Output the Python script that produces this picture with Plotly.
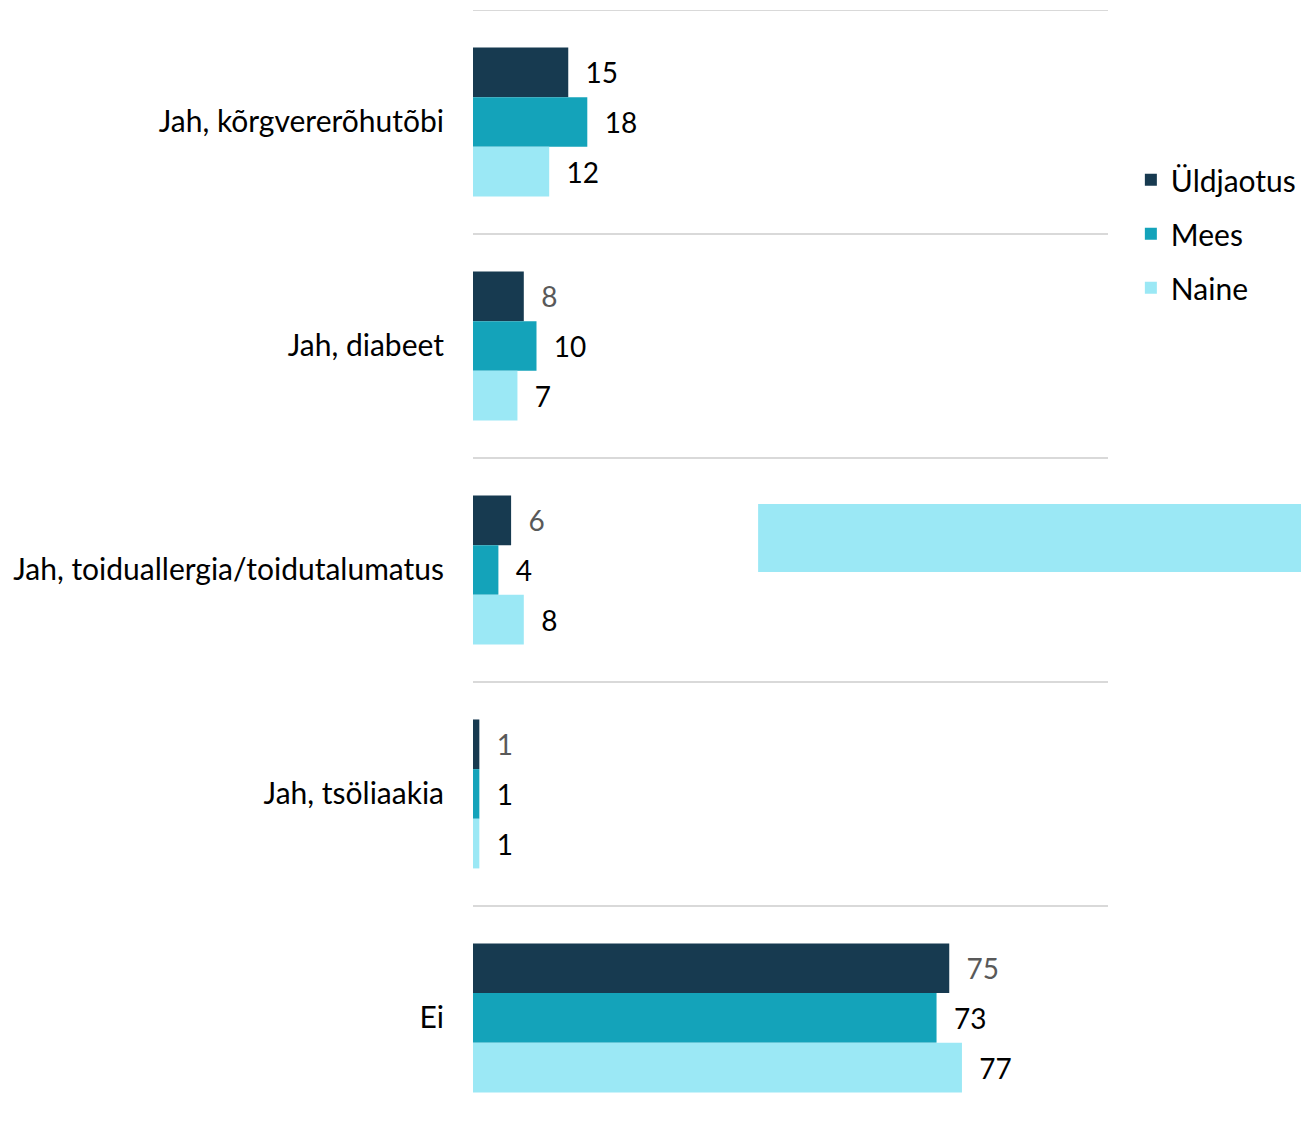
import plotly.graph_objects as go

# Category labels (top to bottom) and values per series, in percent
categories = [
    "Jah, kõrgvererõhutõbi",
    "Jah, diabeet",
    "Jah, toiduallergia/toidutalumatus",
    "Jah, tsöliaakia",
    "Ei",
]
series_names = ["Üldjaotus", "Mees", "Naine"]
uldjaotus = [15, 8, 6, 1, 75]
mees = [18, 10, 4, 1, 73]
naine = [12, 7, 8, 1, 77]

colors = ["#173A50", "#14A3BA", "#9BE8F5"]
label_colors = [
    ["#000000", "#595959", "#595959", "#595959", "#595959"],
    ["#000000"] * 5,
    ["#000000"] * 5,
]

FONT = "Lato"
positions = list(range(len(categories)))

fig = go.Figure()
for i, (name, vals) in enumerate(zip(series_names, [uldjaotus, mees, naine])):
    fig.add_trace(go.Bar(
        name=name,
        y=positions,
        x=vals,
        orientation="h",
        marker=dict(color=colors[i], line=dict(width=0)),
        text=[f"  {v}" for v in vals],
        textposition="outside",
        cliponaxis=False,
        textfont=dict(family=FONT, size=28, color=label_colors[i]),
        legendgroup=name,
        hoverinfo="skip",
    ))

# Thin separators between category bands
shapes = []
for k in range(len(categories)):
    shapes.append(dict(
        type="line", xref="x", yref="y",
        x0=0, x1=100, y0=k - 0.5, y1=k - 0.5,
        line=dict(color="#D9D9D9", width=2),
        layer="below",
    ))
# Light decorative block to the right of the third category
shapes.append(dict(
    type="rect", xref="paper", yref="paper",
    x0=0.449, x1=1.31, y0=0.496, y1=0.557,
    fillcolor="#9BE8F5", line=dict(width=0),
    layer="below",
))

fig.update_layout(
    width=1301,
    height=1125,
    margin=dict(l=473, r=193, t=10, b=0),
    paper_bgcolor="white",
    plot_bgcolor="white",
    barmode="group",
    bargap=0.335,
    bargroupgap=0,
    shapes=shapes,
    showlegend=True,
    legend=dict(
        x=1.036, y=0.871, xanchor="left", yanchor="top",
        traceorder="grouped",
        tracegroupgap=12,
        font=dict(family=FONT, size=30, color="#000000"),
        itemwidth=30,
    ),
    xaxis=dict(
        range=[0, 100],
        showgrid=False, zeroline=False, showline=False,
        showticklabels=False, ticks="",
    ),
    yaxis=dict(
        range=[4.478, -0.5],
        tickvals=positions,
        ticktext=categories,
        showgrid=False, zeroline=False, showline=False,
        ticks="",
        ticklabelstandoff=28,
        tickfont=dict(family=FONT, size=30, color="#000000"),
    ),
)

fig.write_html("out.html")
